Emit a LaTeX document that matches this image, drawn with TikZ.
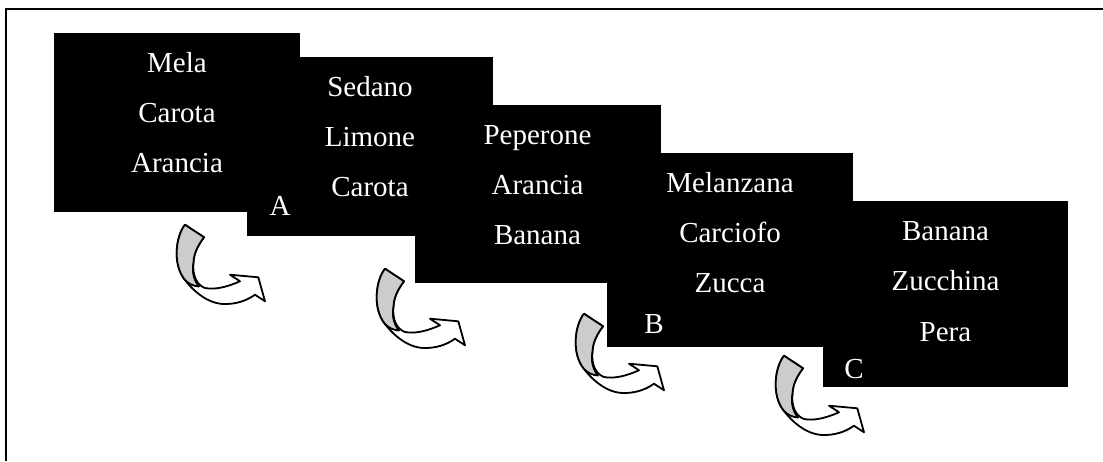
\documentclass[tikz,border=0pt]{standalone}
\usepackage{fontspec}
\setmainfont{Liberation Serif}
\tikzset{
  x=1pt, y=-1pt,
  card/.style={fill=black, draw=none, inner sep=0pt, anchor=north west, minimum width=246pt},
  item/.style={text=white, anchor=base, inner sep=0pt, font=\fontsize{29}{34}\selectfont},
  frameline/.style={line width=2pt, draw=black},
  band/.style={draw=black, line width=1.8pt, line join=round},
  carrow/.pic={
    \path[band, fill=white]
      (10,0.7) .. controls (1,12) and (-3,40) .. (10,56)
      .. controls (20,69) and (35,81) .. (52,80)
      .. controls (65,79.5) and (74,75) .. (80,70.7)
      -- (90,77.3) -- (83.3,53.3) -- (55,50.7) -- (65,57.3)
      .. controls (52,63) and (40,66) .. (30,64)
      .. controls (22,61) and (17,52) .. (18.5,38)
      .. controls (19,28) and (24,20) .. (29,13.3) -- cycle;
    \path[band, fill=black!20]
      (10,0.7) .. controls (1,12) and (-3,40) .. (10,56)
      .. controls (14,60) and (18,62) .. (24,62.5)
      .. controls (18,55) and (17,47) .. (18.5,38)
      .. controls (19,28) and (24,20) .. (29,13.3) -- cycle;
  }
}
\begin{document}
\begin{tikzpicture}
\useasboundingbox (0,0) rectangle (1103,461);
% frame (left and top edges only)
\draw[frameline] (6,461) -- (6,8.5) -- (1103,8.5);
% cards
\node[card, minimum height=179pt] (c1) at (54,33) {};
\node[card, minimum height=179pt] (c2) at (247,57) {};
\node[card, minimum height=178pt] (c3) at (415,105) {};
\node[card, minimum height=194pt] (c4) at (607,153) {};
\node[card, minimum height=186pt, minimum width=245pt] (c5) at (823,201) {};
% card 1
\node[item] (t11) at (177,72) {Mela};
\node[item] (t12) at (177,122) {Carota};
\node[item] (t13) at (177,172) {Arancia};
% card 2
\node[item] (t21) at (370,96) {Sedano};
\node[item] (t22) at (370,146) {Limone};
\node[item] (t23) at (370,196) {Carota};
\node[item] (la) at (280,215) {A};
% card 3
\node[item] (t31) at (537.5,144) {Peperone};
\node[item] (t32) at (537.5,194) {Arancia};
\node[item] (t33) at (537.5,244) {Banana};
% card 4
\node[item] (t41) at (730,192) {Melanzana};
\node[item] (t42) at (730,242) {Carciofo};
\node[item] (t43) at (730,292) {Zucca};
\node[item] (lb) at (654,333) {B};
% card 5
\node[item] (t51) at (945.5,240) {Banana};
\node[item] (t52) at (945.5,290) {Zucchina};
\node[item] (t53) at (945.5,341) {Pera};
\node[item] (lc) at (854,378) {C};
% curved arrows
\pic at (175,224) {carrow};
\pic at (375,268) {carrow};
\pic at (574,313) {carrow};
\pic at (774,355) {carrow};
\end{tikzpicture}
\end{document}
